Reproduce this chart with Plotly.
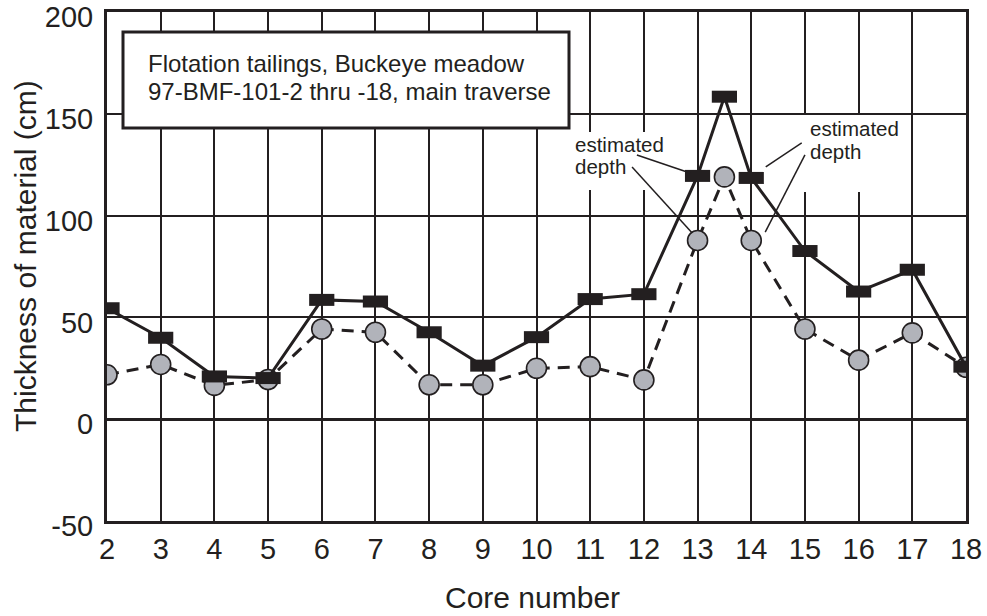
import plotly.graph_objects as go

# ---- data ----
core_numbers = [2, 3, 4, 5, 6, 7, 8, 9, 10, 11, 12, 13, 13.5, 14, 15, 16, 17, 18]
thickness_squares = [54.5, 40.0, 21.0, 20.2, 58.6, 57.8, 42.7, 26.3, 40.3, 59.0, 61.4,
                     119.5, 158.4, 118.5, 82.6, 62.7, 73.4, 25.8]
thickness_circles = [21.8, 26.9, 16.6, 19.5, 44.3, 42.7, 16.9, 16.9, 25.0, 25.8, 19.3,
                     87.8, 119.0, 87.8, 44.3, 29.0, 42.4, 25.5]
x_ticks = list(range(2, 19))
y_ticks = [-50, 0, 50, 100, 150, 200]

INK = "#231f20"
GRAY = "#b1b3ba"
FONT = "Liberation Sans, Arial, sans-serif"

W, H = 987, 616
L, R, T, B = 107, 21, 12, 95
PW, PH = W - L - R, H - T - B


def px_x(p):
    return (p - L) / PW


def px_y(p):
    return (H - B - p) / PH


fig = go.Figure()

fig.add_trace(go.Scatter(
    x=core_numbers, y=thickness_circles, mode="lines+markers",
    line=dict(color=INK, width=3, dash="12px,8px"),
    marker=dict(symbol="circle", size=20, color=GRAY, line=dict(color=INK, width=1.6)),
    showlegend=False, hoverinfo="skip"))

fig.add_trace(go.Scatter(
    x=core_numbers, y=thickness_squares, mode="lines+markers",
    line=dict(color=INK, width=3),
    marker=dict(symbol="line-ew", size=18, color=INK, line=dict(color=INK, width=12)),
    showlegend=False, hoverinfo="skip"))

shapes = []
# white backgrounds of the labels
shapes.append(dict(type="rect", xref="paper", yref="paper",
                   x0=px_x(123), x1=px_x(569), y0=px_y(128), y1=px_y(32),
                   fillcolor="white", line=dict(color=INK, width=3), layer="above"))
shapes.append(dict(type="rect", xref="paper", yref="paper",
                   x0=px_x(572), x1=px_x(664), y0=px_y(190), y1=px_y(132),
                   fillcolor="white", line=dict(width=0), layer="above"))
shapes.append(dict(type="rect", xref="paper", yref="paper",
                   x0=px_x(796), x1=px_x(909), y0=px_y(192), y1=px_y(115),
                   fillcolor="white", line=dict(width=0), layer="above"))
# leader lines (data coords)
leaders = [
    (11.87, 129.8, 12.86, 120.9),
    (11.78, 123.9, 12.90, 91.5),
    (14.94, 135.7, 14.27, 123.9),
    (15.00, 129.8, 14.26, 91.9),
]
for x0, y0, x1, y1 in leaders:
    shapes.append(dict(type="line", xref="x", yref="y", x0=x0, y0=y0, x1=x1, y1=y1,
                       line=dict(color=INK, width=1.5), layer="above"))


def label(text, xp, yp, size):
    return dict(text=text, xref="paper", yref="paper", x=px_x(xp), y=px_y(yp),
                xanchor="left", yanchor="middle", showarrow=False,
                font=dict(family=FONT, size=size, color=INK))


annotations = [
    label("Flotation tailings, Buckeye meadow", 146, 63, 24),
    label("97-BMF-101-2 thru -18, main traverse", 146, 91, 24),
    label("estimated", 573, 144, 20.5),
    label("depth", 573, 167, 20.5),
    label("estimated", 808, 128, 20.5),
    label("depth", 808, 151, 20.5),
    dict(text="Thickness of material (cm)", xref="paper", yref="paper",
         x=0, y=px_y(256), xshift=-82, xanchor="center", yanchor="middle",
         textangle=-90, showarrow=False, font=dict(family=FONT, size=30, color=INK)),
    dict(text="Core number", xref="paper", yref="paper",
         x=px_x(532), y=0, yshift=-76, xanchor="center", yanchor="middle",
         showarrow=False, font=dict(family=FONT, size=30, color=INK)),
]

fig.update_layout(
    template="none",
    width=W, height=H,
    margin=dict(l=L, r=R, t=T, b=B, pad=0, autoexpand=False),
    paper_bgcolor="white", plot_bgcolor="white",
    shapes=shapes, annotations=annotations,
    font=dict(family=FONT, color=INK),
    xaxis=dict(range=[2, 18], tickvals=x_ticks, ticktext=[str(v) for v in x_ticks],
               showgrid=True, gridcolor=INK, gridwidth=1.6, zeroline=False,
               showline=True, linecolor=INK, linewidth=3, mirror=True,
               ticks="", ticklabeloverflow="allow", automargin=False,
               tickfont=dict(family=FONT, size=29, color=INK)),
    yaxis=dict(range=[-50, 200], tickvals=y_ticks, ticktext=[str(v) for v in y_ticks],
               showgrid=True, gridcolor=INK, gridwidth=1.6,
               zeroline=True, zerolinecolor=INK, zerolinewidth=3,
               showline=True, linecolor=INK, linewidth=3, mirror=True,
               ticks="", ticklabelstandoff=5, ticklabelshift=5,
               ticklabeloverflow="allow", automargin=False,
               tickfont=dict(family=FONT, size=29, color=INK)),
)

fig.write_html("out.html")
